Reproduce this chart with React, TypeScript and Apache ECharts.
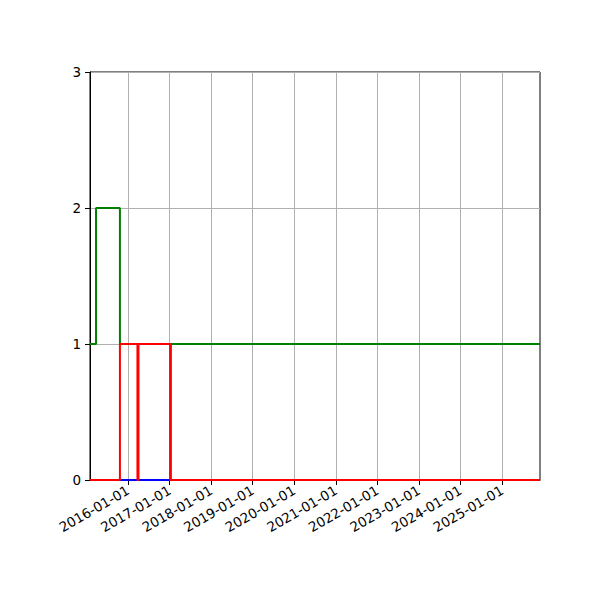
import { useEffect, useRef } from "react";
import * as echarts from "echarts";

// step series: [date, value] — value holds until the next date
const greenSteps: [string, number][] = [
  ["2015-02-01", 1],
  ["2015-03-26", 2],
  ["2015-10-22", 1],
  ["2025-11-30", 1],
];
const redSteps: [string, number][] = [
  ["2015-02-01", 0],
  ["2015-10-22", 1],
  ["2016-03-24", 0],
  ["2016-04-02", 1],
  ["2017-01-06", 0],
  ["2025-11-30", 0],
];
const blueSteps: [string, number][] = [
  ["2015-10-24", 0],
  ["2017-01-10", 1],
  ["2025-11-30", 1],
];
const tickYears = ["2016-01-01", "2017-01-01", "2018-01-01", "2019-01-01", "2020-01-01",
  "2021-01-01", "2022-01-01", "2023-01-01", "2024-01-01", "2025-01-01"];
const xStart = "2015-02-01";
const xEnd = "2025-11-30";

const ts = (d: string) => {
  const [y, m, day] = d.split("-").map(Number);
  return Date.UTC(y, m - 1, day);
};
const pad = (n: number) => (n < 10 ? "0" + n : "" + n);
const fmt = (v: number) => {
  const d = new Date(v);
  return `${d.getUTCFullYear()}-${pad(d.getUTCMonth() + 1)}-${pad(d.getUTCDate())}`;
};

const App = () => {
  const ref = useRef<HTMLDivElement>(null);

  useEffect(() => {
    document.body.style.margin = "0";
    if (!ref.current) return;
    const chart = echarts.init(ref.current, undefined, { renderer: "svg" });
    const tickVals = tickYears.map(ts);
    const mk = (name: string, steps: [string, number][], color: string, z: number) => ({
      name,
      type: "line",
      step: "end",
      symbol: "none",
      clip: false,
      z,
      data: steps.map(([d, v]) => [ts(d), v]),
      lineStyle: { color, width: 2 },
    });

    chart.setOption({
      animation: false,
      textStyle: { fontFamily: "DejaVu Sans" },
      grid: {
        left: 90, top: 72, width: 450, height: 408, z: 0,
        show: true, borderColor: "#000", borderWidth: 1, backgroundColor: "transparent",
      },
      xAxis: {
        type: "value",
        z: 1,
        min: ts(xStart),
        max: ts(xEnd),
        axisLine: { onZero: false, lineStyle: { color: "#000", width: 1 } },
        axisTick: { customValues: tickVals, length: 5, lineStyle: { color: "#000" } },
        axisLabel: {
          customValues: tickVals,
          rotate: 30,
          color: "#000",
          fontSize: 13.5,
          margin: 9,
          formatter: (v: number) => fmt(v),
        },
        splitLine: { show: true, lineStyle: { color: "#b0b0b0", width: 1 } },
      },
      yAxis: {
        type: "value",
        z: 1,
        min: 0,
        max: 3,
        interval: 1,
        axisLine: { show: true, lineStyle: { color: "#000", width: 1 } },
        axisTick: { show: true, length: 5, lineStyle: { color: "#000" } },
        axisLabel: { color: "#000", fontSize: 13.5, margin: 9 },
        splitLine: { show: true, lineStyle: { color: "#b0b0b0", width: 1 } },
      },
      series: [
        mk("blue", blueSteps, "#0000ff", 6),
        mk("green", greenSteps, "#008000", 7),
        mk("red", redSteps, "#ff0000", 8),
      ],
    });

    return () => chart.dispose();
  }, []);

  return <div ref={ref} style={{ width: 600, height: 600 }} />;
};

export default App;
